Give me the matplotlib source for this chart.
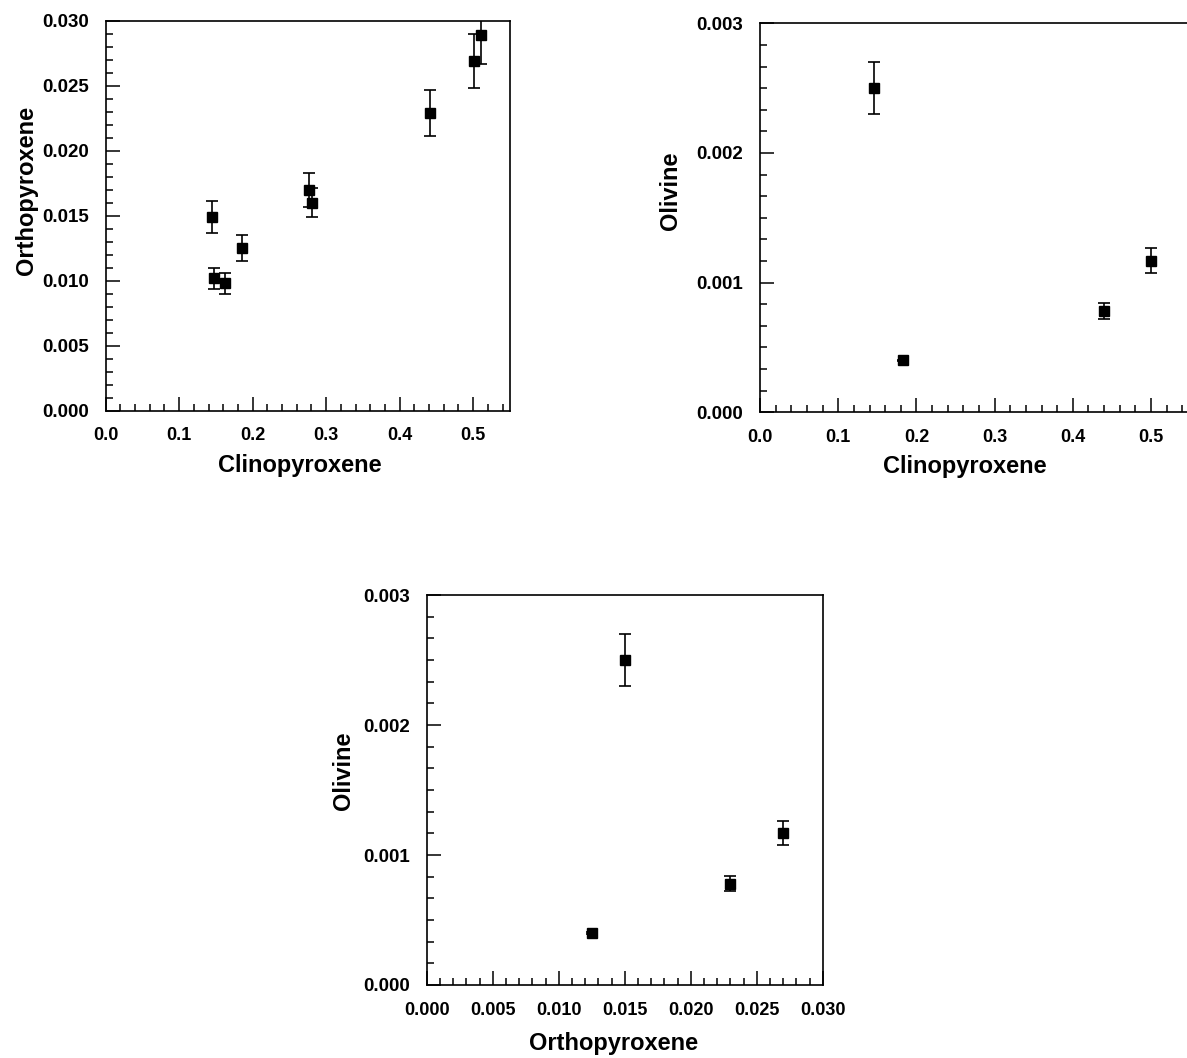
import matplotlib.pyplot as plt
from matplotlib.ticker import MultipleLocator, FormatStrFormatter

# Mineral proportions (with 1-sigma uncertainties)
cpx_a = [0.145, 0.147, 0.163, 0.185, 0.276, 0.281, 0.441, 0.501, 0.511]
opx_a = [0.0149, 0.0102, 0.0098, 0.0125, 0.0170, 0.0160, 0.0229, 0.0269, 0.0289]
opx_a_err = [0.0012, 0.0008, 0.0008, 0.0010, 0.0013, 0.0011, 0.0018, 0.0021, 0.0022]

cpx_b = [0.146, 0.183, 0.440, 0.500]
opx_b = [0.0150, 0.0125, 0.0230, 0.0270]
ol_b = [0.0025, 0.00040, 0.00078, 0.00117]
ol_b_err = [0.0002, 0.000005, 0.00006, 0.000095]

plt.rcParams['font.family'] = ['Liberation Sans', 'DejaVu Sans']
plt.rcParams['font.weight'] = 'bold'

fig = plt.figure(figsize=(11.87, 10.58), dpi=100)

label_font = dict(size=17, weight='bold')


def style(ax, xmaj, xmin, ymaj, ymin, xfmt, yfmt):
    ax.xaxis.set_major_locator(MultipleLocator(xmaj))
    ax.xaxis.set_minor_locator(MultipleLocator(xmin))
    ax.yaxis.set_major_locator(MultipleLocator(ymaj))
    ax.yaxis.set_minor_locator(MultipleLocator(ymin))
    ax.xaxis.set_major_formatter(FormatStrFormatter(xfmt))
    ax.yaxis.set_major_formatter(FormatStrFormatter(yfmt))
    ax.tick_params(which='both', direction='in', top=False, right=False, width=1.1)
    ax.tick_params(which='major', length=10, pad=12)
    ax.tick_params(which='minor', length=5)
    for lab in ax.get_xticklabels():
        lab.set_fontsize(13)
        lab.set_fontweight('bold')
    for lab in ax.get_yticklabels():
        lab.set_fontsize(13.5)
        lab.set_fontweight('bold')
    for sp in ax.spines.values():
        sp.set_linewidth(1.2)


def points(ax, x, y, yerr):
    ax.errorbar(x, y, yerr=yerr, fmt='s', color='black', ms=6.5,
                elinewidth=1.2, capsize=4, capthick=1.2)


# Clinopyroxene vs orthopyroxene
ax1 = fig.add_axes([0.0890, 0.6118, 0.3406, 0.3686])
points(ax1, cpx_a, opx_a, opx_a_err)
ax1.set_xlim(0, 0.55)
ax1.set_ylim(0, 0.030)
style(ax1, 0.1, 0.02, 0.005, 0.001, '%.1f', '%.3f')
ax1.set_xlabel('Clinopyroxene', **label_font)
ax1.set_ylabel('Orthopyroxene', **label_font)
ax1.xaxis.set_label_coords(0.48, -0.11)
ax1.yaxis.set_label_coords(-0.167, 0.566)

# Clinopyroxene vs olivine
ax2 = fig.add_axes([0.6403, 0.6103, 0.3623, 0.3677])
points(ax2, cpx_b, ol_b, ol_b_err)
ax2.set_xlim(0, 0.55)
ax2.set_ylim(0, 0.003)
style(ax2, 0.1, 0.02, 0.001, 0.001 / 6, '%.1f', '%.3f')
ax2.set_xlabel('Clinopyroxene', **label_font)
ax2.set_ylabel('Olivine', **label_font)
ax2.xaxis.set_label_coords(0.477, -0.11)
ax2.yaxis.set_label_coords(-0.181, 0.569)

# Orthopyroxene vs olivine
ax3 = fig.add_axes([0.3595, 0.0690, 0.3336, 0.3686])
points(ax3, opx_b, ol_b, ol_b_err)
ax3.set_xlim(0, 0.030)
ax3.set_ylim(0, 0.003)
style(ax3, 0.005, 0.001, 0.001, 0.001 / 6, '%.3f', '%.3f')
ax3.set_xlabel('Orthopyroxene', **label_font)
ax3.set_ylabel('Olivine', **label_font)
ax3.xaxis.set_label_coords(0.473, -0.12)
ax3.yaxis.set_label_coords(-0.181, 0.549)

fig.savefig('out.png', dpi=100)
